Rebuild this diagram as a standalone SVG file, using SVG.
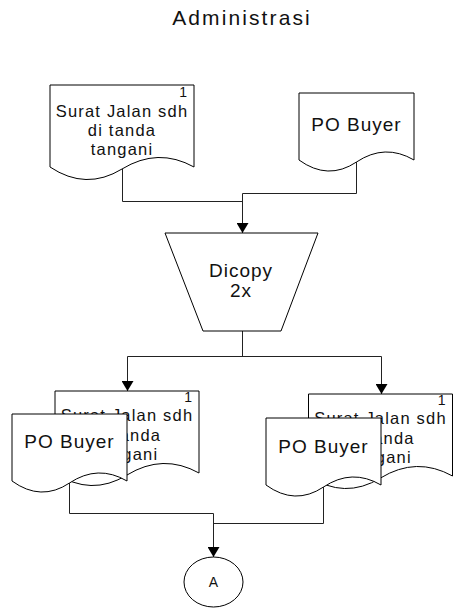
<svg xmlns="http://www.w3.org/2000/svg" width="453" height="608" viewBox="0 0 453 608">
<style>
.bg{fill:#fff}
.shape{fill:#fff;stroke:#000;stroke-width:1}
.conn{fill:none;stroke:#222;stroke-width:1}
.t{font-family:"Liberation Sans",Arial,sans-serif;fill:#111;text-anchor:middle}
.big{font-size:19px;letter-spacing:1px}
.mid{font-size:16.5px;letter-spacing:1.2px}
.num{font-size:14px;text-anchor:end}
.title{font-size:21px;letter-spacing:2.1px}
</style>
<defs>
<marker id="arr" viewBox="0 0 10 12" refX="10" refY="6" markerWidth="10" markerHeight="12" markerUnits="userSpaceOnUse" orient="auto">
<path d="M0,0 L10,6 L0,12 Z" fill="#000"/>
</marker>
<path id="docL" d="M0,0 H144 V82 Q108,62 72,84 T0,82 Z"/>
<path id="docS" d="M0,0 H115 V67 Q86,50 57.5,69 T0,67 Z"/>
</defs>
<rect class="bg" x="0" y="0" width="453" height="608"/>
<g id="title"><text class="t title" x="242" y="25">Administrasi</text></g>

<g id="connectors">
<path class="conn" d="M122.5,169 V201.5 H242.5"/>
<path class="conn" d="M356.5,162 V193.5 H242.5"/>
<path class="conn" d="M242.5,193.5 V233" marker-end="url(#arr)"/>
<path class="conn" d="M242.5,331 V356.5"/>
<path class="conn" d="M127.5,356.5 H381.5"/>
<path class="conn" d="M127.5,356.5 V391" marker-end="url(#arr)"/>
<path class="conn" d="M381.5,356.5 V394" marker-end="url(#arr)"/>
<path class="conn" d="M69.5,483 V513.5 H213.5"/>
<path class="conn" d="M323.5,487 V523.5 H213.5"/>
<path class="conn" d="M213.5,513.5 V557" marker-end="url(#arr)"/>
</g>

<g id="doc-surat-jalan" transform="translate(50,85)">
<use href="#docL" class="shape"/>
<text class="t num" x="137" y="12">1</text>
<text class="t mid" x="72" y="31.5">Surat Jalan sdh</text>
<text class="t mid" x="72" y="50.5">di tanda</text>
<text class="t mid" x="72" y="69.5">tangani</text>
</g>

<g id="doc-po-buyer" transform="translate(299,93)">
<use href="#docS" class="shape"/>
<text class="t big" x="57.5" y="38">PO Buyer</text>
</g>

<g id="dicopy">
<polygon class="shape" points="165,233 318,233 281,331 203,331"/>
<text class="t big" x="241" y="277">Dicopy</text>
<text class="t big" x="241" y="297">2x</text>
</g>

<g id="doc-surat-jalan-copy1" transform="translate(55,391)">
<use href="#docL" class="shape"/>
<text class="t num" x="137" y="11">1</text>
<text class="t mid" x="72" y="30">Surat Jalan sdh</text>
<text class="t mid" x="72" y="49.5">di tanda</text>
<text class="t mid" x="72" y="69">tangani</text>
</g>

<g id="doc-po-buyer-copy1" transform="translate(12,414)">
<use href="#docS" class="shape"/>
<text class="t big" x="57.5" y="34">PO Buyer</text>
</g>

<g id="doc-surat-jalan-copy2" transform="translate(308.5,394)">
<use href="#docL" class="shape"/>
<text class="t num" x="137" y="11">1</text>
<text class="t mid" x="72" y="30">Surat Jalan sdh</text>
<text class="t mid" x="72" y="49.5">di tanda</text>
<text class="t mid" x="72" y="69">tangani</text>
</g>

<g id="doc-po-buyer-copy2" transform="translate(266,418)">
<use href="#docS" class="shape"/>
<text class="t big" x="57.5" y="35">PO Buyer</text>
</g>

<g id="connector-A">
<ellipse class="shape" cx="213.5" cy="582" rx="29.5" ry="25"/>
<text class="t" style="font-size:14px" x="213.5" y="587">A</text>
</g>
</svg>
